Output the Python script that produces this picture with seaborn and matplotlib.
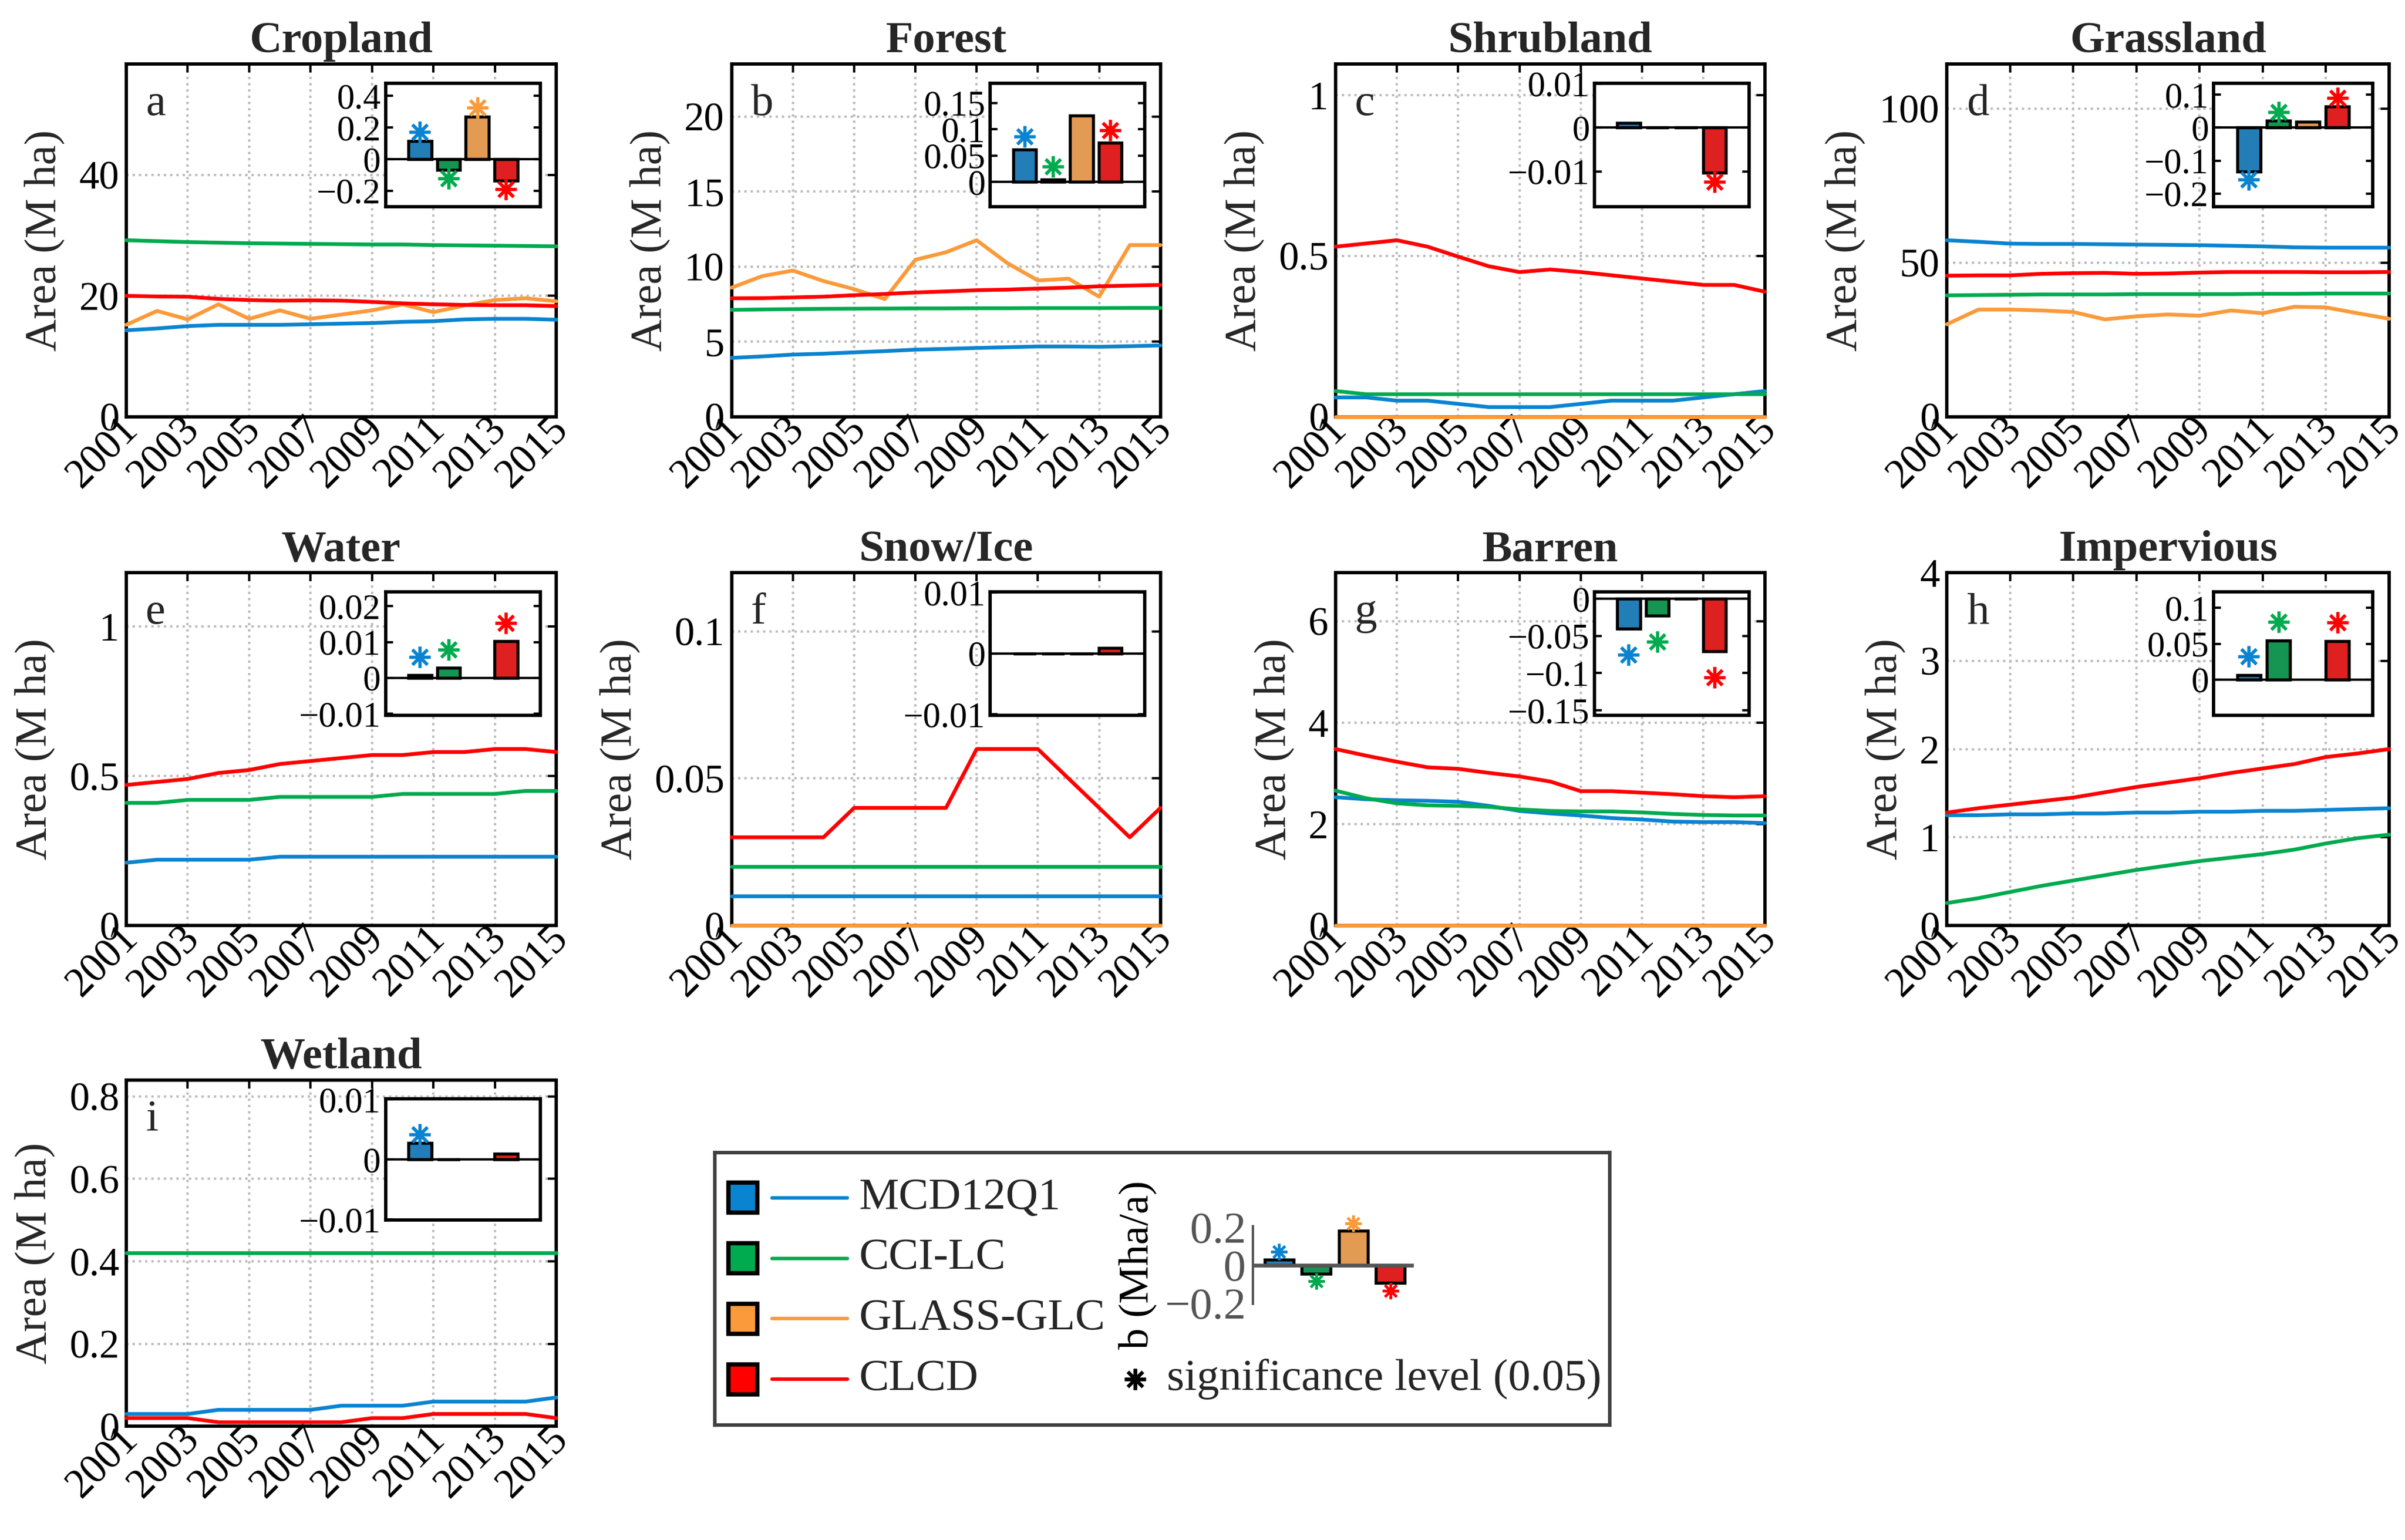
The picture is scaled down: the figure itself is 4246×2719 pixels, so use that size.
import numpy as np
import pandas as pd
import matplotlib
matplotlib.use("Agg")
import matplotlib.pyplot as plt
import matplotlib.transforms as mtransforms
from matplotlib.patches import Rectangle
from matplotlib.ticker import FuncFormatter
import seaborn as sns

# ---------------- data ----------------
years = list(range(2001, 2016))
datasets = ["MCD12Q1", "CCI-LC", "GLASS-GLC", "CLCD"]
colors = ["#0A84D0", "#00AA4F", "#FB9A3A", "#FF0000"]
NA = np.nan

panel_titles = ["Cropland", "Forest", "Shrubland", "Grassland", "Water",
                "Snow/Ice", "Barren", "Impervious", "Wetland"]
panel_letters = ["a", "b", "c", "d", "e", "f", "g", "h", "i"]

cropland_mcd = [14.3, 14.6, 15.0, 15.2, 15.2, 15.2, 15.3, 15.4, 15.5, 15.7, 15.8, 16.1, 16.2, 16.2, 16.05]
cropland_cci = [29.2, 29.05, 28.9, 28.8, 28.7, 28.65, 28.6, 28.55, 28.5, 28.5, 28.4, 28.35, 28.3, 28.25, 28.2]
cropland_glass = [15.2, 17.5, 16.1, 18.6, 16.2, 17.6, 16.2, 16.9, 17.6, 18.6, 17.3, 18.4, 19.3, 19.6, 19.1]
cropland_clcd = [20.0, 19.9, 19.85, 19.5, 19.3, 19.2, 19.25, 19.2, 19.0, 18.75, 18.6, 18.5, 18.45, 18.45, 18.3]

forest_mcd = [3.92, 4.02, 4.14, 4.2, 4.29, 4.37, 4.47, 4.52, 4.58, 4.63, 4.68, 4.68, 4.66, 4.7, 4.75]
forest_cci = [7.12, 7.15, 7.17, 7.19, 7.2, 7.21, 7.22, 7.22, 7.23, 7.23, 7.24, 7.24, 7.24, 7.25, 7.25]
forest_glass = [8.6, 9.37, 9.74, 9.04, 8.5, 7.84, 10.46, 10.96, 11.76, 10.24, 9.08, 9.2, 8.0, 11.44, 11.44]
forest_clcd = [7.89, 7.9, 7.95, 8.0, 8.1, 8.18, 8.28, 8.35, 8.43, 8.47, 8.54, 8.6, 8.69, 8.74, 8.78]

shrub_mcd = [0.06, 0.06, 0.05, 0.05, 0.04, 0.03, 0.03, 0.03, 0.04, 0.05, 0.05, 0.05, 0.06, 0.07, 0.08]
shrub_cci = [0.08, 0.07, 0.07, 0.07, 0.07, 0.07, 0.07, 0.07, 0.07, 0.07, 0.07, 0.07, 0.07, 0.07, 0.07]
shrub_glass = [0, 0, 0, 0, 0, 0, 0, 0, 0, 0, 0, 0, 0, 0, 0]
shrub_clcd = [0.529, 0.539, 0.549, 0.529, 0.498, 0.468, 0.450, 0.458, 0.450, 0.440, 0.430, 0.420, 0.410, 0.410, 0.389]

grass_mcd = [57.3, 56.8, 56.2, 56.1, 56.1, 56.0, 55.9, 55.8, 55.7, 55.5, 55.3, 55.0, 54.9, 54.9, 54.9]
grass_cci = [39.4, 39.5, 39.6, 39.7, 39.7, 39.7, 39.8, 39.8, 39.8, 39.8, 39.9, 39.9, 40.0, 40.0, 40.0]
grass_glass = [30.0, 34.8, 34.8, 34.5, 34.0, 31.6, 32.6, 33.2, 32.8, 34.5, 33.6, 35.7, 35.5, 33.6, 31.8]
grass_clcd = [45.8, 45.9, 45.9, 46.4, 46.6, 46.7, 46.4, 46.5, 46.8, 47.0, 47.0, 47.0, 46.9, 46.9, 47.0]

water_mcd = [0.21, 0.22, 0.22, 0.22, 0.22, 0.23, 0.23, 0.23, 0.23, 0.23, 0.23, 0.23, 0.23, 0.23, 0.23]
water_cci = [0.41, 0.41, 0.42, 0.42, 0.42, 0.43, 0.43, 0.43, 0.43, 0.44, 0.44, 0.44, 0.44, 0.45, 0.45]
water_glass = [NA, NA, NA, NA, NA, NA, NA, NA, NA, NA, NA, NA, NA, NA, NA]
water_clcd = [0.47, 0.48, 0.49, 0.51, 0.52, 0.54, 0.55, 0.56, 0.57, 0.57, 0.58, 0.58, 0.59, 0.59, 0.58]

snow_mcd = [0.01, 0.01, 0.01, 0.01, 0.01, 0.01, 0.01, 0.01, 0.01, 0.01, 0.01, 0.01, 0.01, 0.01, 0.01]
snow_cci = [0.02, 0.02, 0.02, 0.02, 0.02, 0.02, 0.02, 0.02, 0.02, 0.02, 0.02, 0.02, 0.02, 0.02, 0.02]
snow_glass = [0, 0, 0, 0, 0, 0, 0, 0, 0, 0, 0, 0, 0, 0, 0]
snow_clcd = [0.03, 0.03, 0.03, 0.03, 0.04, 0.04, 0.04, 0.04, 0.06, 0.06, 0.06, 0.05, 0.04, 0.03, 0.04]

barren_mcd = [2.53, 2.49, 2.47, 2.46, 2.44, 2.36, 2.26, 2.21, 2.17, 2.12, 2.09, 2.05, 2.04, 2.04, 2.02]
barren_cci = [2.66, 2.51, 2.41, 2.37, 2.36, 2.34, 2.29, 2.26, 2.25, 2.25, 2.23, 2.20, 2.18, 2.17, 2.17]
barren_glass = [0, 0, 0, 0, 0, 0, 0, 0, 0, 0, 0, 0, 0, 0, 0]
barren_clcd = [3.48, 3.35, 3.23, 3.12, 3.09, 3.01, 2.94, 2.84, 2.65, 2.65, 2.62, 2.59, 2.55, 2.53, 2.55]

imperv_mcd = [1.25, 1.25, 1.26, 1.26, 1.27, 1.27, 1.28, 1.28, 1.29, 1.29, 1.30, 1.30, 1.31, 1.32, 1.33]
imperv_cci = [0.255, 0.31, 0.38, 0.45, 0.51, 0.57, 0.63, 0.68, 0.73, 0.77, 0.81, 0.86, 0.93, 0.99, 1.03]
imperv_glass = [NA, NA, NA, NA, NA, NA, NA, NA, NA, NA, NA, NA, NA, NA, NA]
imperv_clcd = [1.28, 1.33, 1.37, 1.41, 1.45, 1.51, 1.57, 1.62, 1.67, 1.73, 1.78, 1.83, 1.91, 1.95, 2.0]

wet_mcd = [0.03, 0.03, 0.03, 0.04, 0.04, 0.04, 0.04, 0.05, 0.05, 0.05, 0.06, 0.06, 0.06, 0.06, 0.07]
wet_cci = [0.42, 0.42, 0.42, 0.42, 0.42, 0.42, 0.42, 0.42, 0.42, 0.42, 0.42, 0.42, 0.42, 0.42, 0.42]
wet_glass = [NA, NA, NA, NA, NA, NA, NA, NA, NA, NA, NA, NA, NA, NA, NA]
wet_clcd = [0.02, 0.02, 0.02, 0.01, 0.01, 0.01, 0.01, 0.01, 0.02, 0.02, 0.03, 0.03, 0.03, 0.03, 0.02]

# trend slopes b (Mha/a) for MCD12Q1, CCI-LC, GLASS-GLC, CLCD and significance flags
cropland_trend = [0.116, -0.066, 0.27, -0.135];   cropland_sig = [1, 1, 1, 1]
forest_trend = [0.062, 0.005, 0.126, 0.074];      forest_sig = [1, 1, 0, 1]
shrub_trend = [0.0011, 0.0, 0.0, -0.0103];        shrub_sig = [0, 0, 0, 1]
grass_trend = [-0.133, 0.022, 0.017, 0.065];      grass_sig = [1, 1, 0, 1]
water_trend = [0.0008, 0.0029, NA, 0.0103];       water_sig = [1, 1, 0, 1]
snow_trend = [0.0, 0.0, 0.0, 0.0009];             snow_sig = [0, 0, 0, 0]
barren_trend = [-0.040, -0.0226, 0.0, -0.071];    barren_sig = [1, 1, 0, 1]
imperv_trend = [0.006, 0.0545, NA, 0.0536];       imperv_sig = [1, 1, 0, 1]
wet_trend = [0.0028, 0.0, NA, 0.001];             wet_sig = [1, 0, 0, 0]

legend_trend = [0.03, -0.045, 0.18, -0.095];      legend_sig = [1, 1, 1, 1]

areas = [
    [cropland_mcd, cropland_cci, cropland_glass, cropland_clcd],
    [forest_mcd, forest_cci, forest_glass, forest_clcd],
    [shrub_mcd, shrub_cci, shrub_glass, shrub_clcd],
    [grass_mcd, grass_cci, grass_glass, grass_clcd],
    [water_mcd, water_cci, water_glass, water_clcd],
    [snow_mcd, snow_cci, snow_glass, snow_clcd],
    [barren_mcd, barren_cci, barren_glass, barren_clcd],
    [imperv_mcd, imperv_cci, imperv_glass, imperv_clcd],
    [wet_mcd, wet_cci, wet_glass, wet_clcd],
]
trends = [cropland_trend, forest_trend, shrub_trend, grass_trend, water_trend,
          snow_trend, barren_trend, imperv_trend, wet_trend]
sigs = [cropland_sig, forest_sig, shrub_sig, grass_sig, water_sig,
        snow_sig, barren_sig, imperv_sig, wet_sig]

# ---------------- style / layout ----------------
yticks_main = [[0, 20, 40], [0, 5, 10, 15, 20], [0, 0.5, 1], [0, 50, 100],
               [0, 0.5, 1], [0, 0.05, 0.1], [0, 2, 4, 6], [0, 1, 2, 3, 4],
               [0, 0.2, 0.4, 0.6, 0.8]]
inset_ylims = [(-0.30, 0.48), (-0.047, 0.1875), (-0.018, 0.0101), (-0.24, 0.135),
               (-0.0105, 0.024), (-0.0102, 0.0101), (-0.157, 0.009), (-0.05, 0.122),
               (-0.0101, 0.0101)]
inset_yticks = [[-0.2, 0, 0.2, 0.4], [0, 0.05, 0.1, 0.15], [-0.01, 0, 0.01],
                [-0.2, -0.1, 0, 0.1], [-0.01, 0, 0.01, 0.02], [-0.01, 0, 0.01],
                [-0.15, -0.1, -0.05, 0], [0, 0.05, 0.1], [-0.01, 0, 0.01]]
star_offsets = [0.055, 0.024, 0.002, 0.025, 0.005, 0.0, 0.035, 0.026, 0.0014]

col_left = [0.0525, 0.3042, 0.5553, 0.8095]
col_w = [0.1788, 0.1783, 0.1785, 0.1839]
row_bottom = [0.7294, 0.3990, 0.0738]
row_h = [0.2292, 0.2292, 0.2250]

sns.set_theme(style="white")
plt.rcParams["font.family"] = ["Liberation Serif", "DejaVu Serif"]
plt.rcParams["axes.unicode_minus"] = True

fig = plt.figure(figsize=(4246 / 300, 2719 / 300), dpi=300)
fig.patch.set_facecolor("white")

fmt = FuncFormatter(lambda v, p: ("%g" % v).replace("-", "\u2212"))
palette = dict(zip(datasets, colors))

for k in range(9):
    r, c = divmod(k, 4)
    ax = fig.add_axes([col_left[c], row_bottom[r], col_w[c], row_h[r]])

    recs = []
    for d, vals in zip(datasets, areas[k]):
        for y, v in zip(years, vals):
            recs.append({"year": y, "area": v, "dataset": d})
    df = pd.DataFrame(recs).dropna()
    sns.lineplot(data=df, x="year", y="area", hue="dataset", hue_order=datasets,
                 palette=palette, legend=False, linewidth=1.6, ax=ax, zorder=3)
    for ln in ax.get_lines():
        ln.set_clip_on(False)

    ymax = 2 * np.nanmax(np.array(areas[k], dtype=float))
    ax.set_xlim(2001, 2015)
    ax.set_ylim(0, ymax)
    ax.set_xticks(list(range(2001, 2016, 2)))
    ax.set_yticks(yticks_main[k])
    ax.yaxis.set_major_formatter(fmt)
    ax.grid(True, linestyle=":", color="#bdbdbd", linewidth=1.0, zorder=0)
    ax.set_axisbelow(True)
    for s in ax.spines.values():
        s.set_linewidth(1.4)
        s.set_color("black")
        s.set_zorder(2.6)
    ax.tick_params(direction="in", length=3.5, width=1.0, top=True, right=True,
                   labelsize=17, pad=3, colors="black")
    ax.tick_params(axis="x", labelsize=17.5)
    offset = mtransforms.ScaledTranslation(0.035, 0.0, fig.dpi_scale_trans)
    for lbl in ax.get_xticklabels():
        lbl.set_rotation(45)
        lbl.set_ha("right")
        lbl.set_va("center")
        lbl.set_rotation_mode("anchor")
        lbl.set_transform(lbl.get_transform() + offset)
    ax.set_xlabel("")
    ax.set_ylabel("Area (M ha)", fontsize=19, labelpad=6)
    ax.set_title(panel_titles[k], fontsize=19, fontweight="bold", pad=5)
    ax.text(0.045, 0.885, panel_letters[k], transform=ax.transAxes,
            fontsize=19, va="center", ha="left")

    # inset bar chart of trends
    ins = ax.inset_axes([0.603, 0.595, 0.36, 0.35])
    bdf = pd.DataFrame({"dataset": datasets, "trend": trends[k]}).dropna()
    sns.barplot(data=bdf, x="dataset", y="trend", hue="dataset", order=datasets,
                hue_order=datasets, palette=palette, legend=False, errorbar=None,
                width=0.8, edgecolor="black", linewidth=1.3, ax=ins, zorder=2)
    ins.axhline(0, color="black", linewidth=1.0, zorder=3)
    for j, (t, sg) in enumerate(zip(trends[k], sigs[k])):
        if sg and not np.isnan(t):
            ins.plot([j], [t + np.sign(t) * star_offsets[k]], linestyle="none",
                     marker=(8, 2, 0), markersize=9, markeredgewidth=1.3,
                     color=colors[j], zorder=4)
    ins.set_xlim(-1.2, 4.2)
    ins.set_ylim(*inset_ylims[k])
    ins.set_yticks(inset_yticks[k])
    ins.yaxis.set_major_formatter(fmt)
    ins.set_xticks([])
    ins.set_xlabel("")
    ins.set_ylabel("")
    ins.set_facecolor("white")
    for s in ins.spines.values():
        s.set_linewidth(1.4)
        s.set_color("black")
    ins.tick_params(axis="y", direction="in", length=3, width=1.0, left=True,
                    right=True, labelsize=15, pad=2, colors="black")

# ---------------- legend box ----------------
lax = fig.add_axes([0.2972, 0.0747, 0.3721, 0.1769])
lax.set_xlim(0, 1)
lax.set_ylim(0, 1)
lax.set_xticks([])
lax.set_yticks([])
lax.set_facecolor("white")
for s in lax.spines.values():
    s.set_linewidth(1.5)
    s.set_color("#404040")
rows_y = np.linspace(0.834, 0.168, 4)
for j, d in enumerate(datasets):
    yy = rows_y[j]
    lax.add_patch(Rectangle((0.0152, yy - 0.055), 0.0323, 0.110,
                            facecolor=colors[j], edgecolor="black", linewidth=1.8))
    lax.plot([0.0639, 0.148], [yy, yy], color=colors[j], linewidth=1.5)
    lax.text(0.161, yy, d, fontsize=19, va="center", ha="left")
lax.plot([0.4696], [rows_y[3]], linestyle="none", marker=(8, 2, 0), markersize=9,
         markeredgewidth=1.4, color="black")
lax.text(0.505, rows_y[3], "significance level (0.05)", fontsize=19,
         va="center", ha="left")

# mini example bar chart inside the legend
max_ = fig.add_axes([0.521, 0.1533, 0.0669, 0.0504])
ldf = pd.DataFrame({"dataset": datasets, "trend": legend_trend})
sns.barplot(data=ldf, x="dataset", y="trend", hue="dataset", order=datasets,
            hue_order=datasets, palette=palette, legend=False, errorbar=None,
            width=0.78, edgecolor="black", linewidth=1.3, ax=max_, zorder=2)
max_.axhline(0, color="#555555", linewidth=1.6, zorder=3)
for j, (t, sg) in enumerate(zip(legend_trend, legend_sig)):
    if sg:
        max_.plot([j], [t + np.sign(t) * 0.04], linestyle="none", marker=(8, 2, 0),
                  markersize=7, markeredgewidth=1.1, color=colors[j], zorder=4,
                  clip_on=False)
max_.set_xlim(-0.7, 3.63)
max_.set_ylim(-0.205, 0.205)
max_.set_yticks([-0.2, 0, 0.2])
max_.yaxis.set_major_formatter(fmt)
max_.set_xticks([])
max_.set_xlabel("")
max_.patch.set_alpha(0)
for name, s in max_.spines.items():
    s.set_visible(name == "left")
    s.set_color("#555555")
    s.set_linewidth(1.0)
max_.tick_params(axis="y", length=0, labelsize=19, pad=3, colors="#555555")
max_.set_ylabel("b (Mha/a)", fontsize=18, color="black")
max_.yaxis.set_label_coords(-0.60, 0.5)

fig.savefig("out.png", dpi=300, facecolor="white")
